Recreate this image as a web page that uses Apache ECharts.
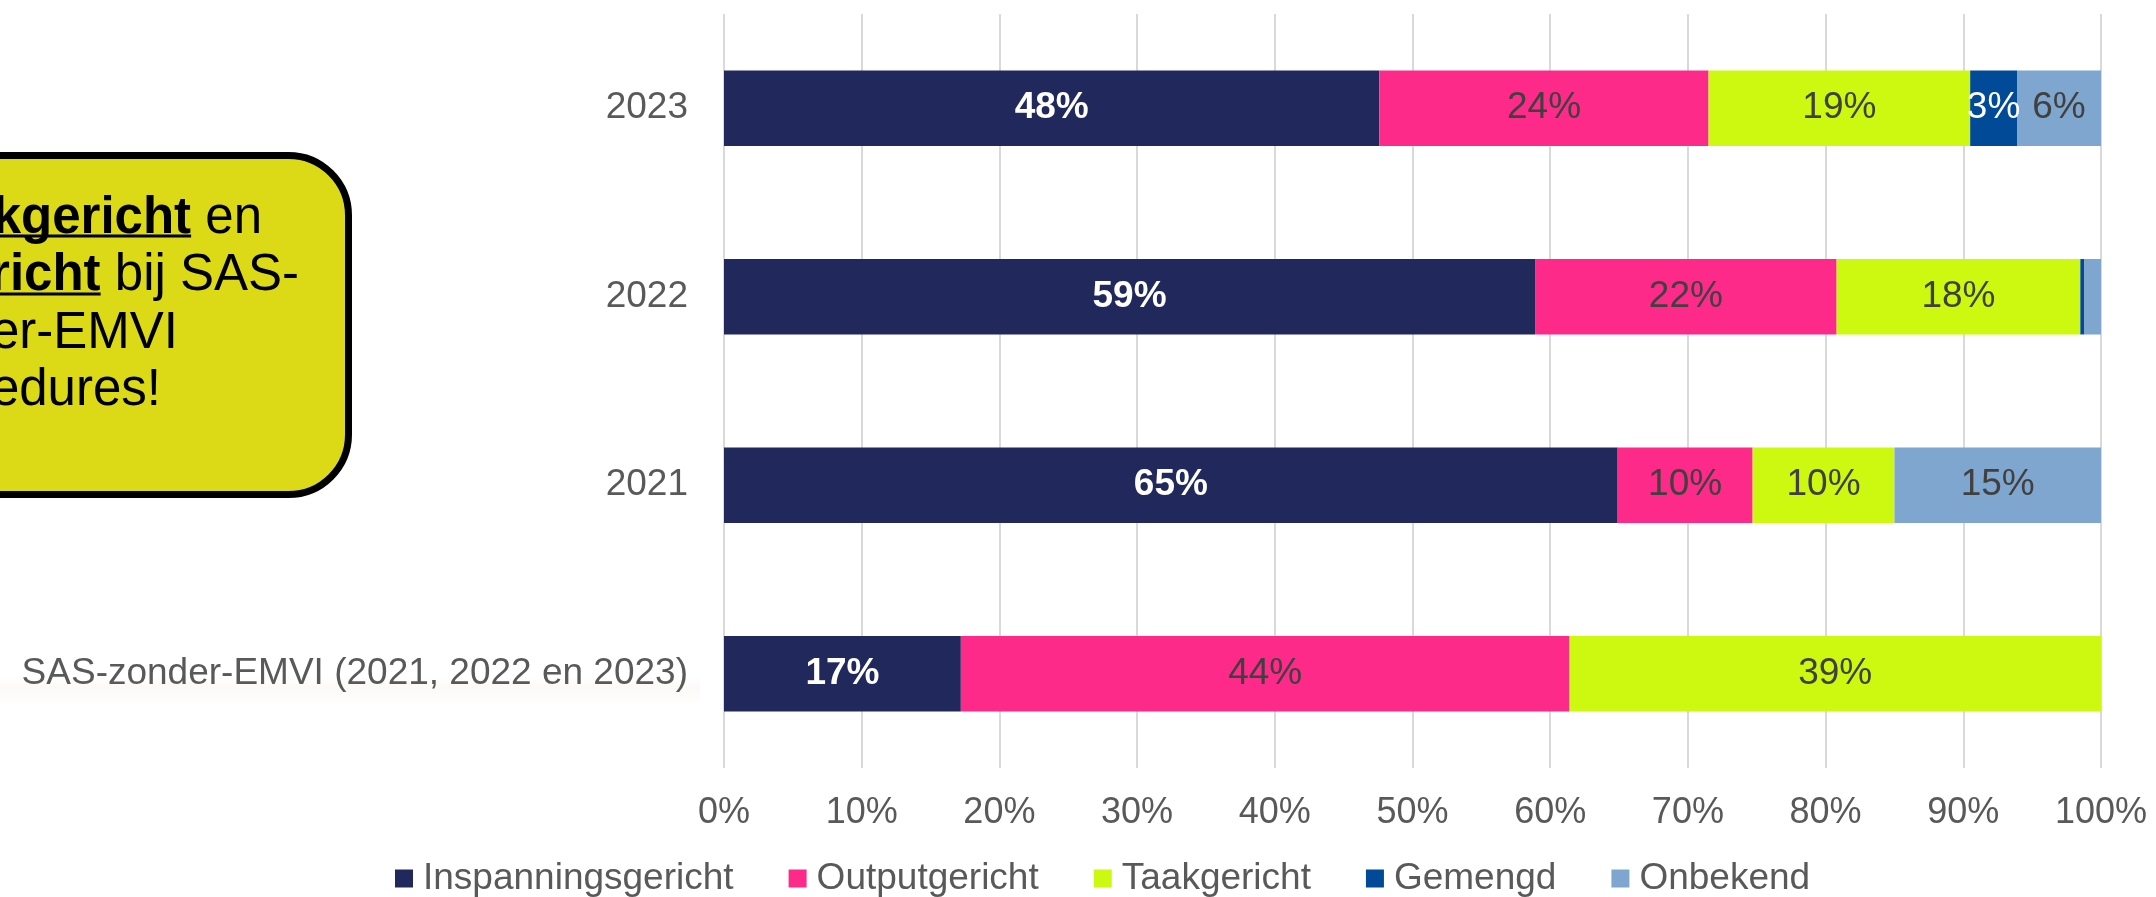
<!DOCTYPE html>
<html>
<head>
<meta charset="utf-8">
<script src="https://cdn.jsdelivr.net/npm/echarts@6/dist/echarts.min.js"></script>
<style>
  html, body { margin: 0; padding: 0; background: #fff; }
  #chart { width: 2156px; height: 897px; }
</style>
</head>
<body>
<div id="chart"></div>
<script>
// categories, top to bottom
const categories = ['2023', '2022', '2021', 'SAS-zonder-EMVI (2021, 2022 en 2023)']
const seriesNames = ['Inspanningsgericht', 'Outputgericht', 'Taakgericht', 'Gemengd', 'Onbekend']
const seriesColors = ['#21295C', '#FE2A8A', '#CCF90F', '#004A97', '#7FA6CE']

// shares in %
const inspanningsgericht = [47.6, 58.9, 64.9, 17.2]
const outputgericht = [23.9, 21.9, 9.8, 44.2]
const taakgericht = [19.0, 17.7, 10.3, 38.6]
const gemengd = [3.4, 0.3, 0, 0]
const onbekend = [6.1, 1.2, 15.0, 0]

const xTicks = [0, 10, 20, 30, 40, 50, 60, 70, 80, 90, 100]

const FONT = '"Liberation Sans", Arial, sans-serif'
const allValues = [inspanningsgericht, outputgericht, taakgericht, gemengd, onbekend]

function labelColor(i) {
  return (i === 0 || i === 3) ? '#ffffff' : '#404040'
}

const series = allValues.map((vals, i) => ({
  name: seriesNames[i],
  type: 'bar',
  stack: 'total',
  barWidth: '40%',
  data: vals,
  itemStyle: { color: seriesColors[i] },
  label: {
    show: true,
    position: 'inside',
    fontFamily: FONT,
    fontSize: 37,
    fontWeight: i === 0 ? 'bold' : 'normal',
    color: labelColor(i),
    formatter: p => (p.value >= 2 ? Math.round(p.value) + '%' : '')
  }
}))

const CALLOUT = 51
function calloutLine(text, x, y) {
  return {
    type: 'text',
    style: {
      text: text, x: x, y: y,
      align: 'right', verticalAlign: 'middle', textAlign: 'right', textVerticalAlign: 'middle',
      font: CALLOUT + 'px ' + FONT, fill: '#000',
      rich: { b: { fontWeight: 'bold', fontSize: CALLOUT, fontFamily: FONT, fill: '#000' } }
    }
  }
}

const chart = echarts.init(document.getElementById('chart'), null, { renderer: 'canvas' })

chart.setOption({
  animation: false,
  backgroundColor: '#ffffff',
  grid: { left: 724, right: 55, top: 14, bottom: 129 },
  legend: {
    data: seriesNames,
    left: 390,
    top: 855,
    icon: 'rect',
    itemWidth: 18,
    itemHeight: 18,
    itemGap: 55,
    textStyle: { fontFamily: FONT, fontSize: 37, color: '#595959', padding: [0, 0, 0, 5] }
  },
  xAxis: {
    type: 'value',
    min: 0,
    max: 100,
    interval: 10,
    axisLine: { show: false },
    axisTick: { show: false },
    splitLine: { show: true, lineStyle: { color: '#D9D9D9', width: 2 } },
    axisLabel: {
      margin: 27,
      fontFamily: FONT,
      fontSize: 36,
      color: '#595959',
      formatter: v => (xTicks.includes(v) ? v + '%' : '')
    }
  },
  yAxis: {
    type: 'category',
    inverse: true,
    data: categories,
    axisLine: { show: false },
    axisTick: { show: false },
    axisLabel: { margin: 36, fontFamily: FONT, fontSize: 37, color: '#595959' }
  },
  graphic: [
    // faint band behind the SAS label
    {
      type: 'rect',
      z: -1,
      shape: { x: 0, y: 676, width: 700, height: 30 },
      style: {
        fill: new echarts.graphic.LinearGradient(0, 0, 0, 1, [
          { offset: 0, color: 'rgba(240,228,215,0.0)' },
          { offset: 0.4, color: 'rgba(240,228,215,0.2)' },
          { offset: 1, color: 'rgba(240,228,215,0.0)' }
        ])
      }
    },
    // yellow callout, cut off at the left
    {
      type: 'rect',
      shape: { x: -100, y: 155.5, width: 448.5, height: 339, r: 60 },
      style: { fill: '#DCDA17', stroke: '#000000', lineWidth: 7 }
    },
    calloutLine('{b|Taakgericht} en', 262, 219),
    calloutLine('{b|Outputgericht} bij SAS-', 299, 276),
    calloutLine('zonder-EMVI', 178, 334),
    calloutLine('procedures!', 161, 391),
    // underlines under the bold words
    { type: 'line', shape: { x1: 0, y1: 236, x2: 262 - 1.39 * CALLOUT, y2: 236 }, style: { stroke: '#000', lineWidth: 3 } },
    { type: 'line', shape: { x1: 0, y1: 294, x2: 299 - 3.89 * CALLOUT, y2: 294 }, style: { stroke: '#000', lineWidth: 3 } }
  ],
  series: series
})
</script>
</body>
</html>
